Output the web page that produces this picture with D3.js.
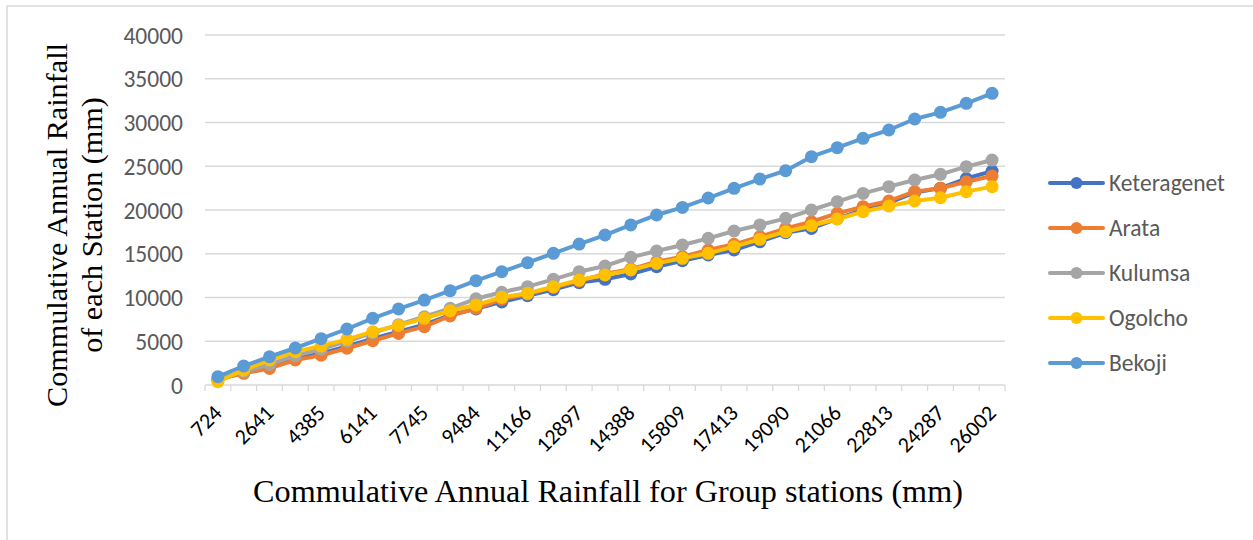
<!DOCTYPE html>
<html><head><meta charset="utf-8">
<script src="https://cdn.jsdelivr.net/npm/d3@7"></script>
<style>
html,body{margin:0;padding:0;background:#fff;}
svg{display:block;}
</style></head>
<body>
<svg id="chart" width="1253" height="540"></svg>
<script>
// Category axis: cumulative annual rainfall for group stations (mm); labels shown on every other category
const groupLabels = ["724","","2641","","4385","","6141","","7745","","9484","","11166","","12897","","14388","","15809","","17413","","19090","","21066","","22813","","24287","","26002"];
const seriesNames = ["Keteragenet","Arata","Kulumsa","Ogolcho","Bekoji"];
const seriesColors = ["#4472C4","#ED7D31","#A5A5A5","#FFC000","#5B9BD5"];
const keteragenet = [600,1450,2100,3000,3600,4400,5300,6100,6900,8000,8700,9500,10200,10900,11700,12080,12690,13520,14200,14860,15430,16380,17400,17900,19000,20000,20800,22000,22500,23600,24450];
const arata = [650,1330,1900,2860,3400,4200,5060,5900,6670,7900,8760,9800,10400,11150,11900,12700,13250,14100,14670,15430,16080,16950,17900,18660,19620,20380,21030,22100,22480,23230,23890];
const kulumsa = [700,1520,2350,3350,4100,5000,5950,6900,7800,8760,9850,10600,11240,12080,12950,13600,14590,15310,16000,16760,17600,18290,19050,20000,20950,21900,22670,23430,24080,24950,25710];
const ogolcho = [380,1710,2860,3810,4450,5220,6100,6800,7620,8490,9140,10020,10480,11230,12000,12570,13140,13900,14480,15050,15810,16650,17520,18200,18970,19800,20460,21030,21400,22100,22670];
const bekoji = [950,2170,3230,4230,5290,6400,7620,8700,9710,10780,11920,12950,13980,15050,16110,17140,18290,19430,20300,21370,22480,23540,24490,26090,27120,28190,29140,30400,31160,32190,33330];
const yTicks = [0,5000,10000,15000,20000,25000,30000,35000,40000];
const seriesValues = [keteragenet, arata, kulumsa, ogolcho, bekoji];

(function(){
const svg = d3.select("#chart");
const sansFont = "Carlito, Calibri, 'Open Sans', 'Noto Sans', sans-serif";
// outer frame
svg.append("line").attr("x1",7).attr("x2",1253).attr("y1",6).attr("y2",6).attr("stroke","#D9D9D9").attr("stroke-width",1.5);
svg.append("line").attr("x1",7).attr("x2",7).attr("y1",6).attr("y2",540).attr("stroke","#D9D9D9").attr("stroke-width",1.5);

const pLeft = 205, pRight = 1005, pTop = 35, pBottom = 385;
const idx = d3.range(groupLabels.length);
const x = d3.scaleBand().domain(idx).range([pLeft, pRight]).padding(0);
const y = d3.scaleLinear().domain([0, 40000]).range([pBottom, pTop]);
const cx = i => x(i) + x.bandwidth()/2;

// gridlines
svg.append("g").selectAll("line").data(yTicks.filter(d=>d>0)).join("line")
  .attr("x1",pLeft).attr("x2",pRight).attr("y1",d=>y(d)).attr("y2",d=>y(d))
  .attr("stroke","#D9D9D9").attr("stroke-width",1.3);

// y axis labels
const yAxis = d3.axisLeft(y).tickValues(yTicks).tickSize(0).tickPadding(0).tickFormat(d3.format("d"));
const yg = svg.append("g").attr("transform",`translate(${183},0)`).call(yAxis);
yg.select(".domain").remove();
yg.selectAll("text").attr("font-family",sansFont).attr("font-size",23.5).attr("fill","#595959").attr("dy","0.35em");

// x axis line and ticks
svg.append("line").attr("x1",pLeft).attr("x2",pRight).attr("y1",pBottom).attr("y2",pBottom).attr("stroke","#D9D9D9").attr("stroke-width",1.3);
const edges = idx.map(i=>x(i)).concat([pRight]);
svg.append("g").selectAll("line").data(edges).join("line")
  .attr("x1",d=>d).attr("x2",d=>d).attr("y1",pBottom).attr("y2",pBottom+6)
  .attr("stroke","#D9D9D9").attr("stroke-width",1.3);

// x labels rotated
svg.append("g").selectAll("text").data(idx.filter(i=>groupLabels[i]!=="")).join("text")
  .attr("transform",i=>`translate(${cx(i)},${pBottom+24}) rotate(-45)`)
  .attr("text-anchor","end").attr("dominant-baseline","central")
  .attr("font-family",sansFont).attr("font-size",22).attr("fill","#000")
  .text(i=>groupLabels[i]);

// series
const line = d3.line().x((d,i)=>cx(i)).y(d=>y(d));
seriesValues.forEach((vals, s) => {
  const g = svg.append("g");
  g.append("path").datum(vals).attr("d",line).attr("fill","none")
    .attr("stroke",seriesColors[s]).attr("stroke-width",4).attr("stroke-linejoin","round").attr("stroke-linecap","round");
  g.selectAll("circle").data(vals).join("circle")
    .attr("cx",(d,i)=>cx(i)).attr("cy",d=>y(d)).attr("r",6.5).attr("fill",seriesColors[s]);
});

// legend
const legY = [183,228,273,318,363];
const lg = svg.append("g");
seriesNames.forEach((n,s)=>{
  lg.append("line").attr("x1",1050).attr("x2",1103).attr("y1",legY[s]).attr("y2",legY[s])
    .attr("stroke",seriesColors[s]).attr("stroke-width",4).attr("stroke-linecap","round");
  lg.append("circle").attr("cx",1076.5).attr("cy",legY[s]).attr("r",6).attr("fill",seriesColors[s]);
  lg.append("text").attr("x",1109).attr("y",legY[s]).attr("dominant-baseline","central")
    .attr("font-family",sansFont).attr("font-size",23.5).attr("fill","#595959").text(n);
});

// axis titles
function fitText(t, w){ const l=t.node().getComputedTextLength(); const fs=+t.attr("font-size"); t.attr("font-size", fs*w/l); }
const xt = svg.append("text").attr("x",608).attr("y",502).attr("text-anchor","middle")
  .attr("font-family","'Liberation Serif','Times New Roman',serif").attr("font-size",26).attr("fill","#000")
  .text("Commulative Annual Rainfall for Group stations (mm)");
fitText(xt, 710);
const yt = svg.append("text")
  .attr("font-family","'Liberation Serif','Times New Roman',serif").attr("font-size",26).attr("fill","#000").attr("text-anchor","middle");
yt.append("tspan").attr("x",0).attr("y",0).text("Commulative Annual Rainfall");
yt.attr("transform","translate(67,225) rotate(-90)");
fitText(yt, 364);
const fs = +yt.attr("font-size");
yt.append("tspan").attr("x",0).attr("dy",fs*1.15).text("of each Station (mm)");
})();
</script>
</body></html>
